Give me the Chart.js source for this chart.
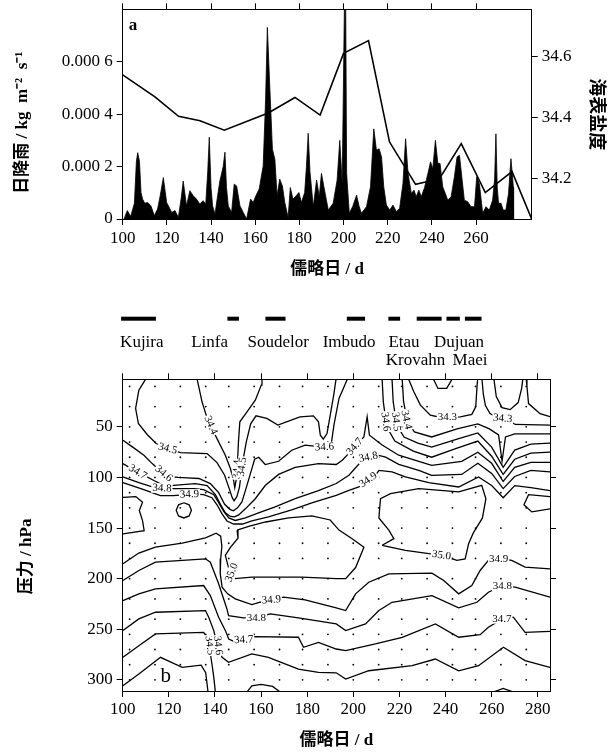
<!DOCTYPE html>
<html lang="zh">
<head>
<meta charset="utf-8">
<title>日降雨与海表盐度</title>
<script src="https://cdn.jsdelivr.net/npm/chart.js@4.4.1/dist/chart.umd.min.js"></script>
<style>
  html, body { margin: 0; padding: 0; background: #fff; }
  body { position: relative; width: 616px; height: 755px; overflow: hidden; }
  canvas { position: absolute; left: 0; }
  #rainChart { top: 0; }
  #profileChart { top: 290px; }
</style>
</head>
<body>
<canvas id="rainChart" width="616" height="290"></canvas>
<canvas id="profileChart" width="616" height="465"></canvas>
<script>
// ---- panel a: daily rainfall (units of 1e-4 kg m-2 s-1) and sea surface salinity
const rainDays = [100.6, 102.1, 103.6, 105.3, 106.2, 106.8, 107.6, 108.3, 109, 110,
  111.3, 112.8, 114.3, 115.8, 117, 118.4, 119.9, 121, 122.2, 123.7,
  125.2, 126.5, 127.4, 128.9, 130.4, 131.9, 133.4, 134.9, 136.4, 137.6,
  138.5, 139.2, 140, 140.7, 141.8, 143, 144, 145.5, 146.3, 147,
  147.8, 149.3, 150.5, 151.6, 153.1, 154.6, 156.1, 157.9, 159.1, 160.3,
  161.8, 163.6, 164.7, 165.5, 166.6, 167.8, 168.9, 169.9, 171.1, 172.3,
  173.4, 174.9, 175.9, 177.1, 178.6, 179.8, 180.9, 182.4, 183.2, 184,
  184.8, 186.3, 187.8, 189, 190, 191.1, 193.1, 195.3, 197.1, 198.3,
  199.4, 200.8, 201.4, 202.6, 204.1, 205.9, 207.1, 208.1, 210.4, 212.2,
  213.7, 214.9, 216.1, 217.2, 218.2, 219.4, 220.9, 222.4, 223.9, 225.4,
  226.9, 228.1, 229.2, 230.7, 231.9, 232.9, 234.1, 235.2, 236.7, 238.2,
  239.4, 240.4, 241.6, 242.7, 243.7, 244.9, 246.1, 247.2, 248.7, 250.2,
  251.4, 252.5, 253.7, 254.7, 256.2, 257.7, 259.3, 260.3, 261.5, 263,
  264.5, 266, 267.5, 268.4, 269, 269.6, 270.2, 271.3, 272.3, 273.5,
  274.7, 275.8, 276.9, 277];
const rainE4 = [0, 0.32, 0.1, 0.6, 2.2, 2.53, 2.2, 1.0, 0.76, 0.6,
  0.63, 0.5, 0.13, 0.38, 0.9, 1.58, 0.63, 0.45, 0.25, 0.32,
  0.06, 0.8, 1.45, 0.5, 1.08, 0.89, 0.76, 0.57, 0.7, 0.57,
  1.8, 3.12, 1.2, 0.5, 0.19, 0.9, 1.45, 2.0, 2.55, 1.2,
  0.5, 0.25, 1.33, 1.26, 0.5, 0.25, 0, 0.76, 0.63, 0.89,
  1.14, 2.02, 4.55, 7.31, 5.06, 2.66, 2.28, 0.89, 1.52, 1.26,
  0.63, 0.06, 1.2, 0.76, 0.89, 1.01, 0.63, 1.01, 2.0, 3.27,
  1.8, 0.47, 1.49, 0.85, 1.74, 1.23, 0.34, 0.6, 1.49, 3.0,
  1.35, 11, 1.74, 0.22, 0.47, 0.91, 0.47, 0.22, 0.47, 1.23,
  3.44, 2.62, 2.68, 2.37, 1.23, 0.53, 0.34, 0.53, 0.28, 0.41,
  1.35, 3.06, 1.74, 0.97, 1.1, 0.85, 1.1, 0.85, 1.2, 1.74,
  2.18, 1.92, 3.0, 2.12, 2.12, 1.23, 0.97, 0.72, 0.85, 1.61,
  2.37, 2.43, 1.49, 0.72, 0.66, 0.47, 0.47, 1.61, 1.35, 0.22,
  0.47, 0.34, 0.72, 1.5, 3.25, 1.2, 0.6, 0.6, 0.34, 0.34,
  0.97, 2.3, 1.23, 0];
const sssDays = [100, 114.6, 125.3, 135, 146, 165.9, 178, 189.4, 200, 211.3, 220.8, 232.6, 238.6, 244.5, 253.3, 264.2, 276.3, 285.2];
const sssValues = [34.54, 34.468, 34.404, 34.389, 34.358, 34.415, 34.466, 34.408, 34.611, 34.653, 34.32, 34.18, 34.19, 34.211, 34.314, 34.153, 34.222, 34.066];

const dayTicks = [100, 120, 140, 160, 180, 200, 220, 240, 260];
const rainTicks = [0, 0.0002, 0.0004, 0.0006];
const rainTickLabels = ['0', '0.000 2', '0.000 4', '0.000 6'];
const sssTicks = [34.2, 34.4, 34.6];

// ---- panel b: salinity section, typhoons, profile positions
const profileDayTicks = [100, 120, 140, 160, 180, 200, 220, 240, 260, 280];
const pressureTicks = [50, 100, 150, 200, 250, 300];

const typhoonNames = ['Kujira', 'Linfa', 'Soudelor', 'Imbudo', 'Etau', 'Krovahn', 'Dujuan', 'Maei'];
const typhoonStart = [99.3, 145.4, 161.9, 197.2, 215.2, 227.5, 240.4, 248.4];
const typhoonEnd = [114.4, 150.4, 170.6, 205.1, 220.3, 238.3, 246.2, 255.6];
const typhoonLabelDay = [108.3, 137.7, 167.4, 198.2, 222, 227, 245.8, 250.6];
const typhoonLabelRow = [0, 0, 0, 0, 0, 1, 0, 1];

const profileDays = [103, 114, 125, 136, 146, 157, 168, 178, 189, 200, 211, 221, 232, 243, 253, 264, 275];
const profilePressures = [10, 30, 50, 65, 80, 100, 115, 130, 150, 165, 180, 200, 220, 240, 255, 270, 285, 300];

// contour lines, [day, pressure]
const c342a = [[261,3],[262,20],[264.5,31],[268,33],[271.5,26],[273,12],[273.5,3]];
const c342b = [[275,3],[275.3,10],[276,27],[281,37],[285.3,40]];
const c342c = [[234.8,3],[236.7,12],[240.5,12],[242.8,3]];
const c343a = [[224,3],[226.2,15],[229.1,28.5],[233.4,38.4],[238.5,41],[246.4,40.1],[251.4,37.7],[253.1,30.2],[253.6,12],[253.9,3]];
const c343b = [[255.8,3],[256.4,18],[257.3,29],[259.3,36.8],[262,40.5],[267,43],[270.2,47.6],[285.3,48.3]];
const c344a = [[132.3,3],[134.4,25.2],[136.2,38.4],[138.7,51.6],[141.6,64.8],[144.5,78],[146.7,91.2],[148.1,103],[148.6,110],[149.4,100],[149.8,84.6],[150.2,64.8],[150.8,45],[153.9,35.1],[157.5,23.6],[160.1,8.7],[160.4,3]];
const c344b = [[221.2,3],[221.8,25],[223.5,45],[226.5,55],[234,60],[245,52],[254,47],[259,52],[263,58],[264.5,84],[266,60],[270,57],[277,57],[285.3,57]];
const c344c = [[100.1,305.8],[107,294.2],[116.4,277.7],[125.8,287.6],[134,285.5],[136,293],[137,312]];
const c345a = [[109.9,3],[107,13.7],[105.6,31.8],[106.8,46.7],[110.6,57.5],[114.5,66.5],[120,72.1],[125.1,75.4],[136.6,76.4],[140.9,85.3],[144.2,97.8],[146.2,111],[147.5,120],[148.3,123],[149.5,119],[150.6,110],[151.3,97.8],[152.3,81.3],[153.6,64.8],[155.5,47],[157.8,39.1],[162.5,41.7],[167.3,48.3],[171.9,44.3],[176.9,40.1],[182.7,39.1],[184.9,45],[185.7,58.2],[187,62.2],[188.6,56.6],[190,38.4],[191.5,18.6],[192.5,3]];
const c345b = [[216.8,3],[217.3,25],[218.8,48],[222,60],[228,66],[234,70],[245,62],[254,56],[260,70],[265,90],[270,73],[277,67],[285.3,66]];
const c345c = [[100.1,277.7],[107,266.2],[114.2,254.6],[135.1,253],[136.6,257.9],[137.8,271],[138.7,284.3],[139.5,297.5],[140.2,312]];
const c345d = [[153.9,312],[156,306],[160,304.5],[165,306.5],[168.3,312]];
const c345e = [[260.8,312],[265,308.5],[269.4,312]];
const c346a = [[100.1,63.2],[104.2,69.8],[109.2,78],[112.8,86.3],[116.5,94],[120,99],[124,100],[128,100.5],[133,101],[138,106],[141.6,115],[144.2,126.5],[146.5,131.5],[148,133],[149.8,130],[151.7,124.2],[153.6,110],[155.6,94.5],[157.2,82],[159,80],[161.8,87.2],[167.6,84],[173.3,73.1],[179.1,68.1],[182,68.8],[187,70],[190.5,66],[191.6,48.3],[193.8,21.9],[197.4,3]];
const c346b = [[212.5,3],[213,25],[214.5,50],[218,64],[226,74],[234,80],[245,71],[254,64],[260,79],[265,97],[270,82],[277,76],[285.3,75]];
const c346c = [[100.1,251.3],[107,239.8],[114.2,233.2],[135.9,231.5],[137.3,238.1],[139.5,251.3],[140.9,264.5],[141.8,270],[143.1,277.7],[145.9,282.7],[156,274.4],[163.2,277.7],[176.2,289.3],[184.9,292.6],[192.6,293],[196.7,299.2],[206.7,291],[225.5,286],[235.6,279.4],[245.7,291],[254.3,286],[265.1,267.8],[274.5,281],[285.3,287.6]];
const c347a = [[100.1,86.3],[104.9,92.9],[109,97.5],[113.5,103],[117.1,107],[121,108],[126,107],[131.5,106],[136.6,108],[140.2,117],[142.5,127],[144.5,135],[146.7,138.5],[148.5,139],[150.3,137],[153.2,131],[157.5,121],[161.8,108],[167.6,97],[174.8,90],[184.9,86.3],[192.6,87.2],[195.2,83],[199,74],[202.5,65],[204.6,59.9],[206,40],[207,58.2],[212.5,68],[219.7,78],[228.4,84],[234,88],[247,84],[254,75],[260,86],[265,104],[270,90],[277,85],[285.3,85]];
const c347b = [[100.1,221.6],[107,215],[114.2,210],[135.1,206.8],[138,216.7],[141.6,238.1],[144.5,251.3],[146,259.6],[148.1,261.9],[152.5,260.5],[156.8,257.3],[176.2,257.9],[178.4,267.8],[184.9,262.9],[192.6,269.5],[196.7,271.1],[209.6,264.5],[221.2,257.9],[235.6,244.7],[245.7,257.9],[255,255.3],[258.6,248],[264.4,240],[269.4,238.1],[274.5,253],[285.3,252]];
const c348a = [[100.1,99.5],[107,105],[114.2,110.3],[120,111],[126,111],[131,111],[135.1,112],[139.5,117],[141.6,125],[143.8,133.5],[146,140],[148.8,142.5],[153.2,140],[158.9,135],[166.1,129],[174.8,121],[184.9,113],[192.6,106],[198.1,97.8],[203.9,83],[209,77],[214,80],[219.7,87],[228.4,93],[234,98],[247,97],[254,86],[260,96],[265,111],[270,99],[277,93],[285.3,94.5]];
const c348b = [[100.1,201.8],[107,191.9],[114.2,183.7],[135.9,180.4],[138,183.7],[141.6,205.1],[145.2,229.9],[145.9,236.5],[152.4,238.8],[158,238.5],[164,234.8],[176.2,238.8],[192.6,244.7],[196.7,251.3],[205.3,244.7],[211.1,231.5],[216.8,223.3],[234.1,216.7],[245.7,228.9],[253.6,223.3],[258.6,213.4],[264.7,207],[270.2,208.4],[285.3,218.3]];
const c349a = [[100.1,105],[108.5,111.5],[116.4,118],[122,118],[127,117],[131,116.5],[135.1,117],[138.7,120],[140.9,127],[143.1,136],[145.2,143],[148.1,146],[152,146],[156,143],[163.2,139],[173.3,132],[182,125],[192.6,117.6],[198.1,112.7],[202.4,109.4],[205.5,104],[209.6,98],[211.1,93],[216.8,94.5],[222.6,99.5],[232.7,105],[245.7,109.4],[254.3,99.5],[260,108],[265,120],[270,108],[277,110],[285.3,113]];
const c349b = [[100.1,185.3],[107,174.7],[114.2,168.8],[125.8,164.8],[135.9,159.6],[140.5,155],[142.5,158],[143,168],[142.5,180],[142.3,195],[143.1,208.4],[145.5,215],[148.8,220],[156,225.6],[159.6,223.3],[164.5,221],[169.7,218.3],[179.1,221],[192.6,228.9],[196.7,231.5],[201,215],[206.7,203.5],[215.4,195.2],[234.1,194.5],[239.2,201.8],[245.7,215],[251.4,206.8],[255,191.9],[258.6,182],[263,180],[268.7,182],[274.5,188.6],[285.3,190.3]];
const c350a = [[100.1,119.6],[105.7,118.9],[108.6,124.5],[107.2,132.7],[108.6,142.6],[109.3,152.5],[100.1,155.7]];
const c350b = [[126.5,125],[128.8,127],[129.8,132.5],[128.8,138],[126.5,140],[124.2,138],[123.2,132.5],[124.2,127],[126.5,125]];
const c350c = [[149.6,152],[150,160],[146.7,169],[144.5,177],[146,190],[148.8,200],[156,198.5],[164.7,198.5],[177.7,198.5],[192.6,200],[196.7,200],[201,189],[204.6,169],[199.5,160.5],[193.8,152],[190,142],[182,138],[172,140],[162,144],[155,148],[149.6,152]];
const c350d = [[212.5,167],[217.6,160.5],[215.4,152],[211.1,140],[211.8,121],[216.1,116],[228.4,111],[245.7,114.3],[255.7,107.7],[257.5,121],[256,140],[252,155],[250,165.5],[248.5,180.4],[244.9,182],[238.5,177],[231.2,174.7],[222.6,172],[212.5,167]];
const c350e = [[285.3,119],[276,117],[274,127],[277.4,134],[285.3,131]];

const contourLines = [c342a, c342b, c342c, c343a, c343b, c344a, c344b, c344c,
  c345a, c345b, c345c, c345d, c345e, c346a, c346b, c346c, c347a, c347b,
  c348a, c348b, c349a, c349b, c350a, c350b, c350c, c350d, c350e];

// [text, day, pressure, rotation]
const contourLabels = [
  ['34.5', 119.5, 71.6, 0.25], ['34.4', 138.2, 48.5, 1.15], ['34.4', 149.6, 92, -1.5],
  ['34.5', 151.8, 89.5, -1.45], ['34.7', 106.5, 94.7, 0.55], ['34.6', 117.8, 96.2, 0.7],
  ['34.8', 117, 110.7, 0.05], ['34.9', 129, 116.8, -0.05], ['34.6', 187.5, 70, -0.05],
  ['34.7', 200.7, 69.5, -0.85], ['34.8', 206.5, 80, -0.2], ['34.9', 206.5, 102.5, -0.6],
  ['34.6', 214, 45, 1.45], ['34.5', 218.5, 45, 1.45], ['34.4', 223, 43, 1.35],
  ['34.3', 240.8, 40.8, 0], ['34.3', 264.8, 41.8, 0.1], ['35.0', 147.3, 194, -1.2],
  ['34.9', 164.5, 221, -0.08], ['34.8', 158, 238.5, 0], ['34.7', 152.5, 260.5, -0.05],
  ['34.5', 137.7, 266, 1.45], ['34.6', 141.3, 266, 1.45], ['35.0', 238.2, 177, 0.15],
  ['34.9', 263, 180.5, 0], ['34.8', 264.7, 207.5, 0], ['34.7', 264.4, 239.5, 0]
];

// ---- shared helpers
const black = '#000';
const serif = "'Liberation Serif', 'Times New Roman', serif";
const titleFamily = "'Liberation Serif', 'Noto Sans CJK SC', serif";

const fixedTicks = (values) => (scale) => {
  scale.ticks = values.map(v => ({ value: v }));
};
const boxSize = (prop, size) => (scale) => {
  scale[prop] = size;
  scale.paddingTop = 0;
  scale.paddingBottom = 0;
  scale.paddingLeft = 0;
  scale.paddingRight = 0;
};
const tickGrid = { display: true, drawOnChartArea: false, drawTicks: true, tickLength: 6, color: black, lineWidth: 1 };
const axisBorder = { display: true, color: black, width: 1 };
const tickFont = { family: serif, size: 17 };

// ---- panel a
const panelLetterA = {
  id: 'panelLetterA',
  afterDraw(chart) {
    const { ctx, chartArea } = chart;
    ctx.save();
    ctx.fillStyle = black;
    ctx.font = 'bold 17px ' + serif;
    ctx.textBaseline = 'middle';
    ctx.fillText('a', chartArea.left + 6, chartArea.top + 16);
    ctx.restore();
  }
};

new Chart(document.getElementById('rainChart'), {
  type: 'line',
  data: {
    datasets: [
      {
        label: '海表盐度',
        data: sssDays.map((d, i) => ({ x: d, y: sssValues[i] })),
        yAxisID: 'y1',
        borderColor: black,
        borderWidth: 1.6,
        pointRadius: 0,
        tension: 0,
        fill: false,
        order: 0
      },
      {
        label: '日降雨',
        data: rainDays.map((d, i) => ({ x: d, y: rainE4[i] * 1e-4 })),
        yAxisID: 'y',
        borderColor: black,
        backgroundColor: black,
        borderWidth: 0.8,
        pointRadius: 0,
        tension: 0,
        fill: 'origin',
        order: 1
      }
    ]
  },
  options: {
    responsive: false,
    animation: false,
    devicePixelRatio: 1,
    events: [],
    layout: { padding: 0 },
    plugins: { legend: { display: false }, tooltip: { enabled: false } },
    scales: {
      x: {
        type: 'linear', position: 'bottom', min: 100, max: 285.2,
        afterBuildTicks: fixedTicks(dayTicks),
        afterFit: boxSize('height', 71),
        grid: tickGrid, border: axisBorder,
        ticks: { color: black, font: tickFont, padding: 3, maxRotation: 0, autoSkip: false, callback: v => String(v) },
        title: { display: true, text: '儒略日 / d', color: black, font: { family: titleFamily, size: 17, weight: 'bold' }, padding: { top: 0, bottom: 10 } }
      },
      xTop: {
        type: 'linear', position: 'top', min: 100, max: 285.2,
        afterBuildTicks: fixedTicks(dayTicks),
        afterFit: boxSize('height', 9.3),
        grid: tickGrid, border: axisBorder,
        ticks: { display: false }
      },
      y: {
        type: 'linear', position: 'left', min: 0, max: 0.0008,
        afterBuildTicks: fixedTicks(rainTicks),
        afterFit: boxSize('width', 122.7),
        grid: tickGrid, border: axisBorder,
        ticks: { color: black, font: tickFont, padding: 4, autoSkip: false, callback: (v, i) => rainTickLabels[i] },
        title: { display: true, text: '日降雨 / kg  m⁻²  s⁻¹\u2002\u2002', color: black, font: { family: titleFamily, size: 17, weight: 'bold' }, padding: { top: 12, bottom: 0 } }
      },
      y1: {
        type: 'linear', position: 'right', min: 34.066, max: 34.756,
        afterBuildTicks: fixedTicks(sssTicks),
        afterFit: boxSize('width', 84.3),
        grid: tickGrid, border: axisBorder,
        ticks: { color: black, font: tickFont, padding: 4, autoSkip: false, callback: v => v.toFixed(1) },
        title: { display: true, text: '海表盐度', color: black, font: { family: titleFamily, size: 18, weight: 'bold' }, padding: { top: 10, bottom: 0 } }
      }
    }
  },
  plugins: [panelLetterA]
});

// ---- panel b
const typhoonMarks = {
  id: 'typhoonMarks',
  afterDraw(chart) {
    const { ctx, chartArea, scales: { x } } = chart;
    ctx.save();
    ctx.fillStyle = black;
    typhoonStart.forEach((s, i) => {
      const a = x.getPixelForValue(s);
      const b = x.getPixelForValue(typhoonEnd[i]);
      ctx.fillRect(a, 26.7, b - a, 4);
    });
    ctx.font = '17px ' + serif;
    ctx.textAlign = 'center';
    ctx.textBaseline = 'middle';
    typhoonNames.forEach((name, i) => {
      ctx.fillText(name, x.getPixelForValue(typhoonLabelDay[i]), typhoonLabelRow[i] ? 71 : 53);
    });
    ctx.font = '21px ' + serif;
    ctx.fillText('b', chartArea.left + 43, chartArea.bottom - 15);
    ctx.restore();
  }
};

const contourText = {
  id: 'contourText',
  afterDatasetsDraw(chart) {
    const { ctx, chartArea, scales: { x, y } } = chart;
    ctx.save();
    ctx.beginPath();
    ctx.rect(chartArea.left, chartArea.top, chartArea.width, chartArea.height);
    ctx.clip();
    ctx.font = '11px ' + serif;
    ctx.textAlign = 'center';
    ctx.textBaseline = 'middle';
    contourLabels.forEach(([text, day, p, angle]) => {
      ctx.save();
      ctx.translate(x.getPixelForValue(day), y.getPixelForValue(p));
      ctx.rotate(angle);
      const w = ctx.measureText(text).width;
      ctx.fillStyle = '#fff';
      ctx.fillRect(-w / 2 - 1, -5, w + 2, 10);
      ctx.fillStyle = black;
      ctx.fillText(text, 0, 0);
      ctx.restore();
    });
    ctx.restore();
  }
};

const profilePoints = [];
profileDays.forEach(d => profilePressures.forEach(p => profilePoints.push({ x: d, y: p })));

new Chart(document.getElementById('profileChart'), {
  type: 'line',
  data: {
    datasets: [
      ...contourLines.map(line => ({
        data: line.map(([d, p]) => ({ x: d, y: p })),
        borderColor: black,
        borderWidth: 1.3,
        pointRadius: 0,
        tension: 0,
        fill: false
      })),
      {
        data: profilePoints,
        showLine: false,
        pointRadius: 0.9,
        pointBorderWidth: 0,
        pointBackgroundColor: black
      }
    ]
  },
  options: {
    responsive: false,
    animation: false,
    devicePixelRatio: 1,
    events: [],
    layout: { padding: { top: 80 } },
    plugins: { legend: { display: false }, tooltip: { enabled: false } },
    scales: {
      x: {
        type: 'linear', position: 'bottom', min: 100, max: 285.3,
        afterBuildTicks: fixedTicks(profileDayTicks),
        afterFit: boxSize('height', 64),
        grid: tickGrid, border: axisBorder,
        ticks: { color: black, font: tickFont, padding: 2, maxRotation: 0, autoSkip: false, callback: v => String(v) },
        title: { display: true, text: '儒略日 / d', color: black, font: { family: titleFamily, size: 17, weight: 'bold' }, padding: { top: 0, bottom: 4 } }
      },
      xTop: {
        type: 'linear', position: 'top', min: 100, max: 285.3,
        afterBuildTicks: fixedTicks(profileDayTicks),
        afterFit: boxSize('height', 9.3),
        grid: tickGrid, border: axisBorder,
        ticks: { display: false }
      },
      y: {
        type: 'linear', position: 'left', min: 3, max: 311, reverse: true,
        afterBuildTicks: fixedTicks(pressureTicks),
        afterFit: boxSize('width', 122.7),
        grid: tickGrid, border: axisBorder,
        ticks: { color: black, font: tickFont, padding: 4, autoSkip: false, callback: v => String(v) },
        title: { display: true, text: '压力 / hPa\u2002\u2002\u2002\u2002\u2002', color: black, font: { family: titleFamily, size: 17, weight: 'bold' }, padding: { top: 16, bottom: 0 } }
      },
      yR: {
        type: 'linear', position: 'right', min: 3, max: 311, reverse: true,
        afterBuildTicks: fixedTicks(pressureTicks),
        afterFit: boxSize('width', 66),
        grid: tickGrid, border: axisBorder,
        ticks: { display: false }
      }
    }
  },
  plugins: [contourText, typhoonMarks]
});
</script>
</body>
</html>
